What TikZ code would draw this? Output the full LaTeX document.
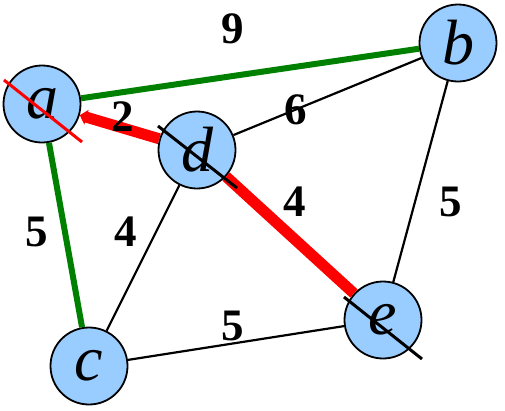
\documentclass[tikz,border=0pt]{standalone}
\usetikzlibrary{arrows.meta}
\usepackage{fontspec}
\setmainfont{Liberation Serif}
\begin{document}
\begin{tikzpicture}[x=1pt,y=-1pt,
  vert/.style={circle,draw=black,line width=1.8pt,fill=vfill,minimum size=77pt,inner sep=0pt,font=\fontsize{64}{64}\selectfont\itshape},
  wlab/.style={font=\fontsize{45}{45}\selectfont\bfseries,inner sep=0pt},
  thin/.style={draw=black,line width=2.2pt},
  grn/.style={draw=ggreen,line width=6pt},
  rd/.style={draw=red,line width=11pt},
  crossline/.style={line width=3pt}]
\definecolor{vfill}{HTML}{99CCFF}
\definecolor{ggreen}{HTML}{008000}
\useasboundingbox (0,0) rectangle (505,410);
\node[vert] (a) at (42,104) {a};
\node[vert] (b) at (458,43) {b};
\node[vert] (c) at (89,366) {c};
\node[vert] (d) at (197,150) {d};
\node[vert] (e) at (383,320) {e};
\draw[grn] (a) -- (b);
\draw[grn] (a) -- (c);
\draw[thin] (d) -- (b);
\draw[thin] (d) -- (c);
\draw[thin] (c) -- (e);
\draw[thin] (b) -- (e);
\draw[rd,-{Triangle[width=15pt,length=7pt]}] (d) -- (a);
\draw[rd] (d) -- (e);
\coordinate (a1) at (4,80);
\coordinate (a2) at (82,142);
\coordinate (d1) at (158,126);
\coordinate (d2) at (237,188);
\coordinate (e1) at (344,297);
\coordinate (e2) at (422,359);
\draw[crossline,red] (a1) -- (a2);
\draw[crossline,black] (d1) -- (d2);
\draw[crossline,black] (e1) -- (e2);
\node[wlab] (w9) at (233,29) {9};
\node[wlab] (w2) at (123,117) {2};
\node[wlab] (w6) at (296,110) {6};
\node[wlab] (w4r) at (295,202) {4};
\node[wlab] (w5r) at (451,202) {5};
\node[wlab] (w5l) at (37,232) {5};
\node[wlab] (w4l) at (126,232) {4};
\node[wlab] (w5b) at (233,326) {5};
\end{tikzpicture}
\end{document}
